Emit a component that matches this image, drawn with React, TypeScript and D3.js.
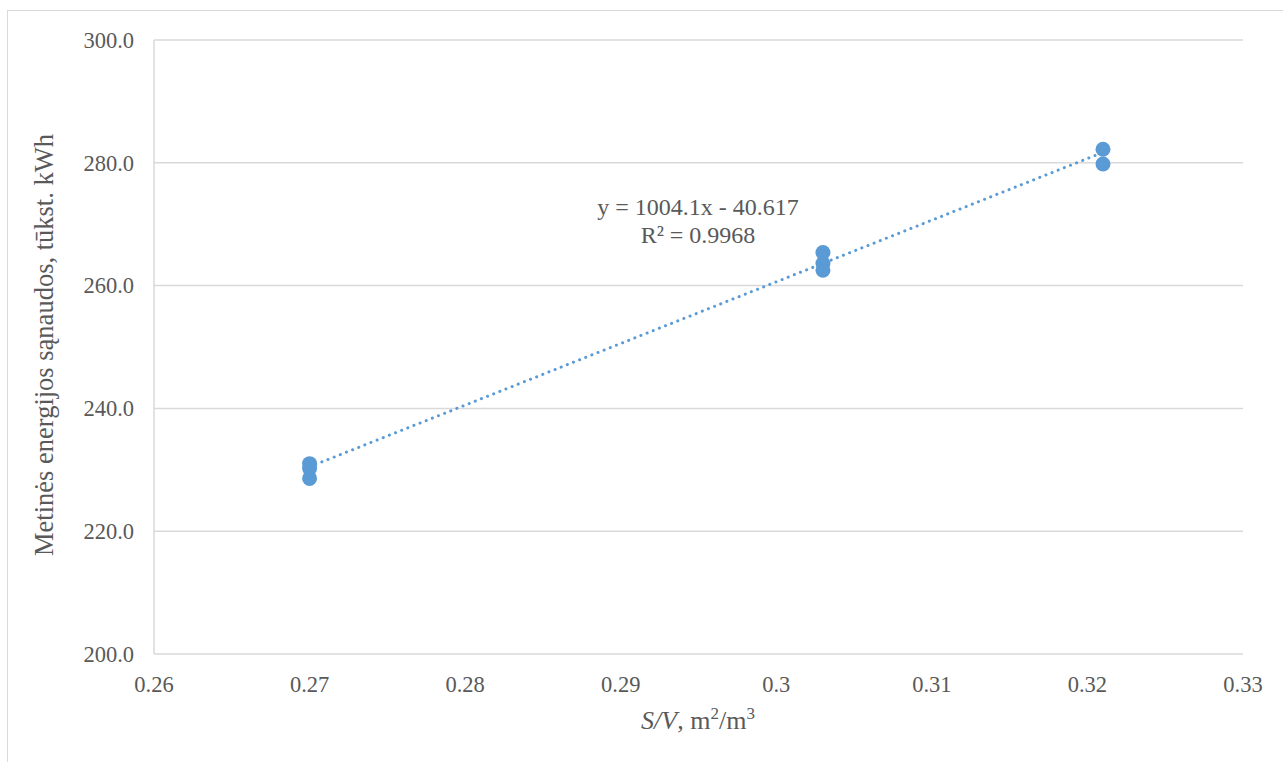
import React from "react";
import * as d3 from "d3";

const xTicks = [0.26, 0.27, 0.28, 0.29, 0.3, 0.31, 0.32, 0.33];
const yTicks = [200, 220, 240, 260, 280, 300];
const xValues = [0.27, 0.27, 0.27, 0.303, 0.303, 0.303, 0.321, 0.321];
const yValues = [231.0, 230.2, 228.6, 265.4, 263.6, 262.5, 282.2, 279.8];
const slope = 1004.1;
const intercept = -40.617;
const equationText = "y = 1004.1x - 40.617";
const r2Text = "R² = 0.9968";
const yTitle = "Metinės energijos sąnaudos, tūkst. kWh";

export default function App() {
  const W = 1283, H = 762;
  const left = 154, right = 1243, top = 40, bottom = 654;
  const x = d3.scaleLinear().domain([0.26, 0.33]).range([left, right]);
  const y = d3.scaleLinear().domain([200, 300]).range([bottom, top]);
  const font = "'Liberation Serif', 'Times New Roman', serif";
  const textColor = "#595959";
  const blue = "#5B9BD5";
  const x0 = d3.min(xValues) as number;
  const x1 = d3.max(xValues) as number;
  const line = d3.line<number>().x((d) => x(d)).y((d) => y(slope * d + intercept));
  return (
    <div style={{ position: "fixed", left: 0, top: 0, width: W, height: H, background: "#fff" }}>
      <svg width={W} height={H} style={{ display: "block" }}>
        <rect x={7.5} y={10.5} width={W + 20} height={H + 20} fill="#fff" stroke="#d9d9d9" strokeWidth={1} />
        {yTicks.map((t) => (
          <line key={"g" + t} x1={left} x2={right} y1={y(t)} y2={y(t)} stroke="#d9d9d9" strokeWidth={1.5} />
        ))}
        <line x1={left} x2={left} y1={top} y2={bottom} stroke="#d9d9d9" strokeWidth={1.5} />
        {yTicks.map((t) => (
          <text key={"yl" + t} x={134} y={y(t)} dy="0.35em" textAnchor="end" fontFamily={font} fontSize={22.5} fill={textColor}>
            {t.toFixed(1)}
          </text>
        ))}
        {xTicks.map((t) => (
          <text key={"xl" + t} x={x(t)} y={692} textAnchor="middle" fontFamily={font} fontSize={22.5} fill={textColor}>
            {String(+t.toFixed(2))}
          </text>
        ))}
        <path d={line([x0, x1]) || ""} fill="none" stroke={blue} strokeWidth={3} strokeDasharray="0.1 6.5" strokeLinecap="round" />
        {xValues.map((v, i) => (
          <circle key={"p" + i} cx={x(v)} cy={y(yValues[i])} r={7.5} fill={blue} />
        ))}
        <text x={698} y={215} textAnchor="middle" fontFamily={font} fontSize={24} fill={textColor}>{equationText}</text>
        <text x={698} y={243} textAnchor="middle" fontFamily={font} fontSize={24} fill={textColor}>{r2Text}</text>
        <text transform={`translate(53, 345) rotate(-90)`} textAnchor="middle" fontFamily={font} fontSize={26.5} fill={textColor}>
          {yTitle}
        </text>
        <text x={698} y={729} textAnchor="middle" fontFamily={font} fontSize={26} fill={textColor}>
          <tspan fontStyle="italic">S/V</tspan>
          <tspan>, m</tspan>
          <tspan fontSize={17} dy={-10}>2</tspan>
          <tspan dy={10}>/m</tspan>
          <tspan fontSize={17} dy={-10}>3</tspan>
        </text>
      </svg>
    </div>
  );
}
